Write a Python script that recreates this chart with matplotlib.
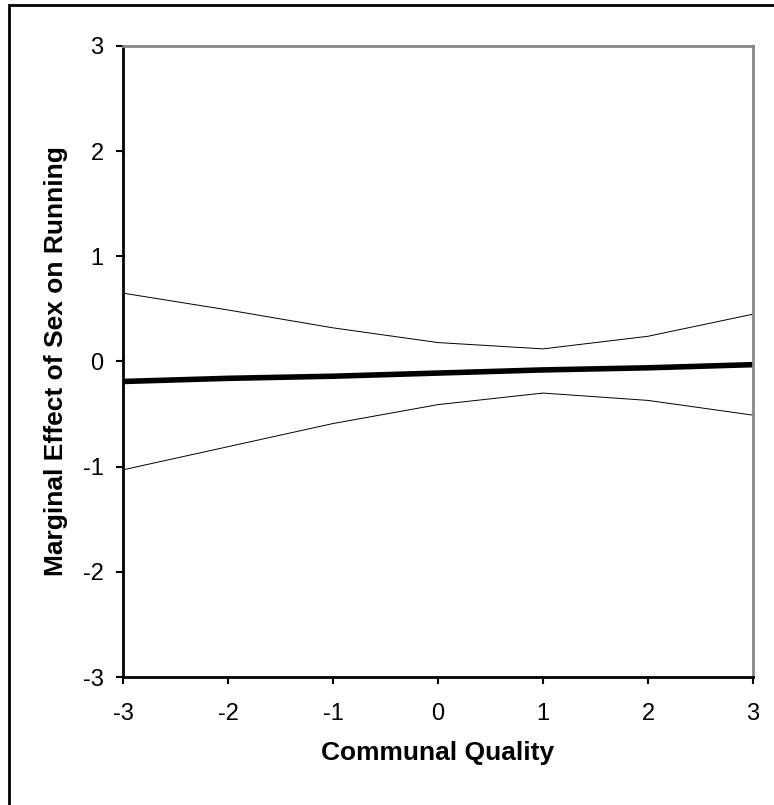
import matplotlib.pyplot as plt
from matplotlib.patches import Rectangle

plt.rcParams['font.family'] = ['Liberation Sans', 'DejaVu Sans']
plt.rcParams['axes.unicode_minus'] = False

# Data
quality = [-3, -2, -1, 0, 1, 2, 3]
effect = [-0.19, -0.16, -0.14, -0.11, -0.08, -0.06, -0.03]
upper = [0.65, 0.49, 0.32, 0.18, 0.12, 0.24, 0.45]
lower = [-1.03, -0.81, -0.59, -0.41, -0.30, -0.37, -0.51]
ticks = [-3, -2, -1, 0, 1, 2, 3]

fig = plt.figure(figsize=(7.74, 8.05), dpi=100)
ax = fig.add_axes([123 / 774, 128 / 805, 630 / 774, 631 / 805])

ax.plot(quality, upper, color='black', linewidth=0.7)
ax.plot(quality, lower, color='black', linewidth=0.7)
ax.plot(quality, effect, color='black', linewidth=4)

ax.set_xlim(-3, 3)
ax.set_ylim(-3, 3)
ax.set_xticks(ticks)
ax.set_yticks(ticks)
ax.tick_params(direction='out', length=5, width=1.5, labelsize=17)
ax.tick_params(axis='x', pad=14)
ax.tick_params(axis='y', pad=9)

for side in ['left', 'bottom']:
    ax.spines[side].set_linewidth(2)
    ax.spines[side].set_color('black')
for side in ['top', 'right']:
    ax.spines[side].set_linewidth(2)
    ax.spines[side].set_color('#888888')

ax.set_xlabel('Communal Quality', fontsize=19, fontweight='bold', labelpad=11)
ax.set_ylabel('Marginal Effect of Sex on Running', fontsize=19, fontweight='bold', labelpad=10.5)

# outer frame
fig.patches.append(Rectangle((9 / 774, -0.05), 1.1, 1.0 - 5 / 805 + 0.05,
                             transform=fig.transFigure, fill=False,
                             edgecolor='black', linewidth=2))

fig.savefig('out.png', dpi=100)
